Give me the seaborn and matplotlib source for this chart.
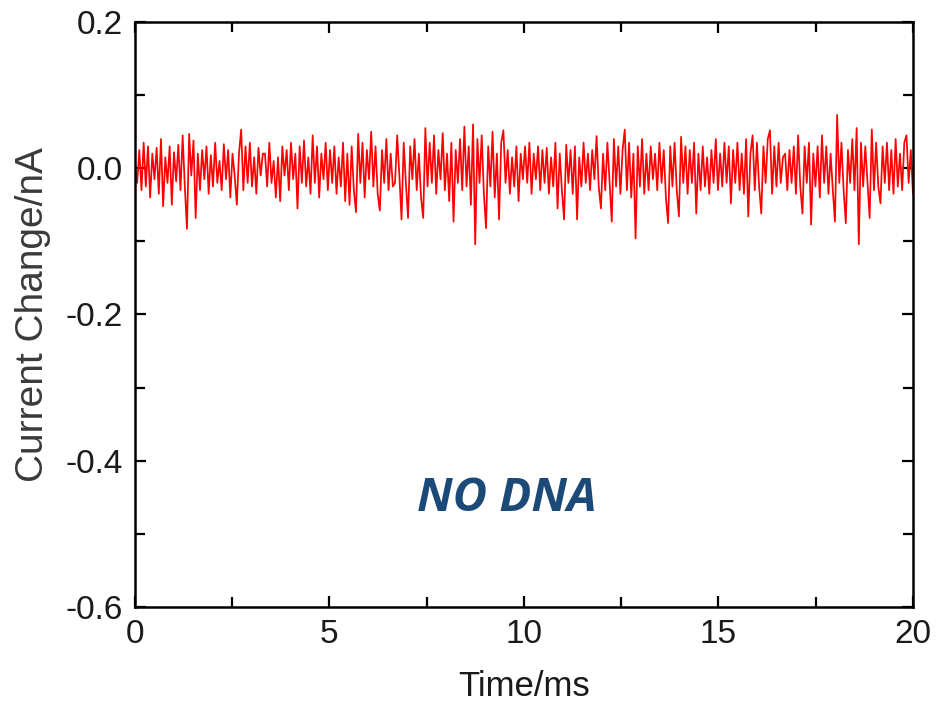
import numpy as np
import pandas as pd
import matplotlib
matplotlib.use("Agg")
import matplotlib.pyplot as plt
from matplotlib.ticker import MultipleLocator, FixedLocator
import seaborn as sns

# ---- data (nA) ----
seg1 = [0.005, -0.02, 0.025, -0.03, 0.035, -0.025, 0.03, -0.04, 0.02, -0.015,
        0.028, -0.035, 0.04, -0.052, 0.015, -0.02, 0.03, -0.05, 0.022, -0.018,
        0.032, -0.03, 0.045, -0.025, -0.083, 0.047, -0.01, 0.038, -0.068, 0.02,
        -0.03, 0.025, -0.015, 0.03, -0.035, 0.018, -0.025, 0.035, -0.02, 0.01,
        -0.03, 0.033, -0.015, 0.025, -0.04, 0.02, -0.01, -0.05, 0.02, 0.053,
        -0.03, 0.03, -0.02, 0.035, -0.025, 0.015, -0.035, 0.028, -0.01, 0.02]
seg2 = [0.02, -0.025, 0.035, -0.02, 0.01, -0.04, 0.015, -0.045, 0.03, -0.01,
        0.025, -0.03, 0.035, -0.015, 0.02, -0.055, 0.03, -0.02, 0.038, -0.025,
        0.015, -0.035, 0.045, -0.02, 0.03, -0.04, 0.02, -0.015, 0.035, -0.03,
        0.025, -0.02, 0.03, -0.035, 0.015, -0.025, 0.035, -0.045, 0.02, -0.05,
        0.03, -0.03, -0.06, 0.047, -0.02, 0.035, -0.04, 0.025, -0.015, 0.05,
        -0.025, 0.03, -0.035, -0.058, 0.025, -0.02, 0.04, -0.03, 0.02, -0.025]
seg3 = [-0.02, 0.045, -0.01, -0.07, 0.035, -0.02, -0.068, 0.03, -0.015, 0.04,
        -0.03, 0.02, -0.04, -0.068, 0.055, -0.025, 0.035, -0.02, 0.045, -0.035,
        0.025, -0.015, 0.048, -0.03, 0.02, -0.045, 0.035, -0.073, 0.025, -0.02,
        0.04, -0.03, 0.057, -0.025, 0.03, -0.05, 0.06, -0.104, 0.04, -0.02,
        0.045, -0.035, -0.082, 0.03, -0.025, 0.05, -0.04, 0.02, -0.07, 0.035,
        0.052, -0.02, 0.025, -0.035, 0.015, -0.025, 0.03, -0.045, 0.02, -0.015]
seg4 = [0.03, -0.02, 0.035, -0.035, 0.02, -0.015, 0.03, -0.03, 0.025, -0.02,
        0.028, -0.035, 0.015, -0.025, 0.035, -0.055, 0.02, -0.03, -0.07, 0.032,
        -0.02, 0.025, -0.035, 0.03, -0.07, 0.015, -0.025, 0.035, -0.02, 0.02,
        -0.03, 0.025, -0.015, 0.044, -0.025, -0.055, 0.02, -0.03, 0.035, -0.02,
        -0.073, 0.04, -0.025, 0.03, -0.035, 0.025, 0.053, -0.03, 0.035, -0.04,
        0.02, -0.096, 0.03, -0.025, 0.04, -0.035, 0.02, -0.03, 0.03, -0.015]
seg5 = [0.02, -0.03, 0.035, -0.02, 0.025, -0.04, -0.075, 0.03, -0.025, 0.035,
        -0.03, -0.066, 0.043, -0.02, 0.03, -0.035, 0.025, -0.02, 0.035, -0.062,
        0.02, -0.03, 0.03, -0.025, 0.015, -0.035, 0.025, -0.02, 0.04, -0.03,
        0.02, -0.025, 0.035, -0.02, 0.03, -0.048, 0.025, -0.02, 0.035, -0.03,
        0.02, -0.035, 0.04, -0.066, 0.02, 0.045, -0.03, 0.035, -0.025, -0.062,
        0.03, -0.02, 0.04, 0.052, -0.035, 0.03, -0.025, 0.035, -0.02, 0.015]
seg6 = [0.02, -0.03, 0.025, -0.02, 0.03, -0.035, 0.045, -0.025, -0.062, 0.03,
        -0.02, 0.035, -0.077, 0.02, -0.025, 0.03, -0.04, 0.045, -0.02, 0.03,
        -0.035, 0.02, -0.03, -0.073, 0.073, -0.02, 0.035, -0.03, -0.075, 0.025,
        -0.02, 0.04, -0.03, 0.055, -0.104, 0.035, -0.025, 0.03, -0.02, -0.068,
        0.053, -0.03, 0.035, -0.025, -0.048, 0.03, -0.02, 0.035, -0.03, 0.025,
        -0.035, 0.04, -0.025, 0.02, -0.03, 0.035, 0.045, -0.02, 0.025, -0.035]

current = seg1 + seg2 + seg3 + seg4 + seg5 + seg6
t_start, t_end = 0.0, 20.0
time = np.linspace(t_start, t_end, len(current))  # uniform sampling grid

x_ticks = [0, 5, 10, 15, 20]
y_ticks = [0.2, 0.0, -0.2, -0.4, -0.6]
y_ticklabels = ["0.2", "0.0", "-0.2", "-0.4", "-0.6"]
annotation = "NO DNA"

df = pd.DataFrame({"Time/ms": time, "Current": current})

# ---- style ----
sns.set_style("ticks")
plt.rcParams["font.family"] = ["Liberation Sans", "DejaVu Sans"]

fig = plt.figure(figsize=(9.36, 7.08), dpi=100)
ax = fig.add_axes([0.1442, 0.1427, 0.8312, 0.8262])

sns.lineplot(data=df, x="Time/ms", y="Current", ax=ax, color="#FF0000",
             linewidth=1.25, estimator=None, sort=False)

ax.set_xlim(0, 20)
ax.set_ylim(-0.6, 0.2)
ax.xaxis.set_major_locator(FixedLocator(x_ticks))
ax.xaxis.set_minor_locator(MultipleLocator(2.5))
ax.yaxis.set_major_locator(FixedLocator(y_ticks))
ax.yaxis.set_minor_locator(MultipleLocator(0.1))
ax.set_yticklabels(y_ticklabels)

for s in ax.spines.values():
    s.set_linewidth(1.8)
    s.set_color("black")
    s.set_visible(True)

ax.tick_params(which="both", direction="in", top=True, right=True,
               width=1.6, color="black")
ax.tick_params(which="major", length=8)
ax.tick_params(which="minor", length=7)
ax.tick_params(axis="x", which="major", labelsize=24, pad=9, labelcolor="#1a1a1a")
ax.tick_params(axis="y", which="major", labelsize=24, pad=9, labelcolor="#1a1a1a")

ax.set_xlabel("Time/ms", fontsize=25, color="#1a1a1a", labelpad=14)
ax.set_ylabel("Current Change/nA", fontsize=28, color="#3a3a3a", labelpad=10)

ax.text(9.56, -0.452, annotation, fontsize=34, fontweight="bold",
        fontstyle="italic", color="#1C4A78", ha="center", va="center",
        family=["Open Sans", "DejaVu Sans"])

fig.savefig("out.png", dpi=100)
